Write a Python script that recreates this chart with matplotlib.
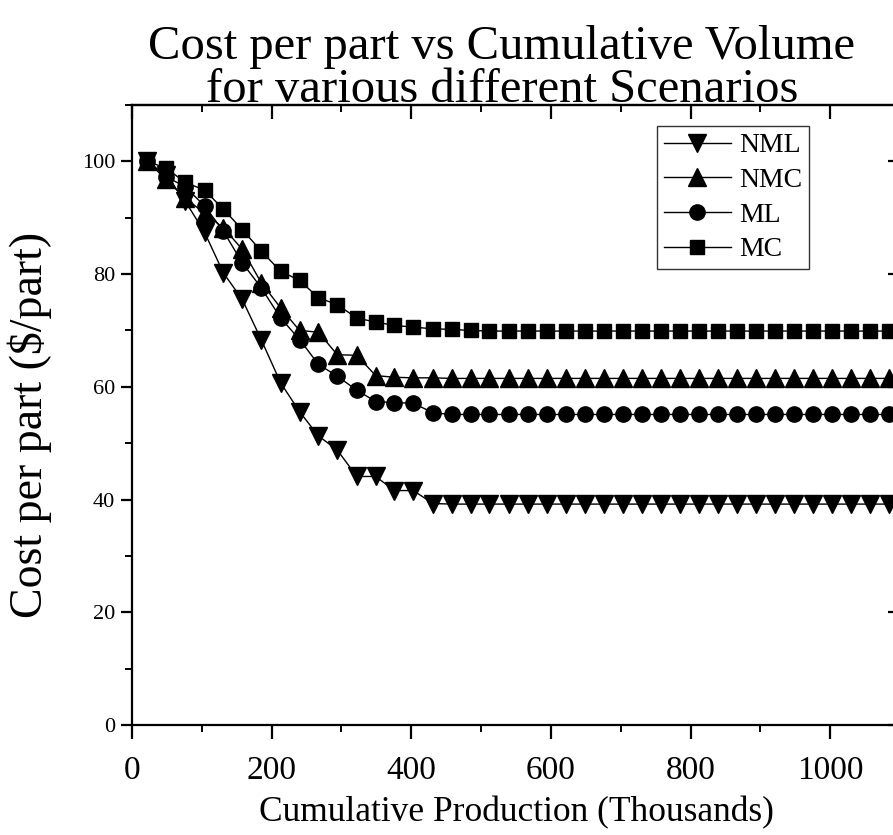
"""
Cost per part against cumulative production volume for the four scenarios.
"""

import matplotlib.pyplot as plt
import matplotlib.ticker as ticker

plt.rcParams["font.family"] = ["Liberation Serif", "DejaVu Serif"]

# cumulative production (thousands of parts)
volume = [22, 49, 76, 104, 131, 158, 185, 213, 240, 267,
          294, 322, 349, 376, 403, 431, 458, 485, 512, 540,
          567, 594, 621, 649, 676, 703, 730, 758, 785, 812,
          839, 867, 894, 921, 948, 976, 1003, 1030, 1057, 1085]

# cost per part ($/part) for each scenario
nml = [100.0, 97.5, 93.0, 87.4, 80.2, 75.5, 68.4, 60.7, 55.6, 51.3,
       48.8, 44.1, 44.1, 41.6, 41.6, 39.3] + [39.2] * 24
nmc = [100.0, 96.8, 93.5, 90.8, 88.2, 84.4, 78.5, 74.0, 70.0, 69.7,
       65.7, 65.6, 62.0, 61.7, 61.6, 61.6] + [61.5] * 24
ml = [100.0, 97.3, 95.5, 92.1, 87.6, 82.0, 77.6, 72.2, 68.4, 64.0,
      61.9, 59.4, 57.4, 57.2, 57.1, 55.4] + [55.1] * 24
mc = [100.0, 98.8, 96.3, 94.9, 91.5, 87.9, 84.1, 80.5, 78.9, 75.8,
      74.6, 72.2, 71.5, 70.9, 70.6, 70.3, 70.2, 70.0] + [69.9] * 22

SERIES = [
    ("NML", nml, dict(marker="v", ms=12.5)),
    ("NMC", nmc, dict(marker="^", ms=12.5)),
    ("ML", ml, dict(marker="o", ms=11)),
    ("MC", mc, dict(marker="s", ms=10.5)),
]

fig = plt.figure(figsize=(8.93, 8.35), dpi=100)
ax = fig.add_axes([0.1478, 0.1317, 0.86, 0.7425])

for name, values, style in SERIES:
    ax.plot(volume, values, color="black", lw=1.0, mfc="black", mec="black",
            label=name, **style)

ax.set_xlim(0, 1100)
ax.set_ylim(0, 110)
ax.xaxis.set_major_locator(ticker.MultipleLocator(200))
ax.xaxis.set_minor_locator(ticker.MultipleLocator(100))
ax.yaxis.set_major_locator(ticker.MultipleLocator(20))
ax.yaxis.set_minor_locator(ticker.MultipleLocator(10))

for side in ax.spines.values():
    side.set_linewidth(1.6)

ax.tick_params(axis="x", which="major", direction="out", length=10, width=1.6,
               labelsize=24, pad=12)
ax.tick_params(axis="x", which="minor", direction="out", length=5, width=1.4)
ax.tick_params(axis="y", which="major", direction="out", length=8, width=1.6,
               labelsize=16, pad=4)
ax.tick_params(axis="y", which="minor", direction="out", length=5, width=1.4)

# mirrored ticks on the top and right spines point inward
top = ax.secondary_xaxis("top")
top.xaxis.set_major_locator(ticker.MultipleLocator(200))
top.xaxis.set_minor_locator(ticker.MultipleLocator(100))
top.tick_params(which="major", direction="in", length=10, width=1.6, labeltop=False)
top.tick_params(which="minor", direction="in", length=5, width=1.4)
top.spines["top"].set_linewidth(1.6)
right = ax.secondary_yaxis("right")
right.yaxis.set_major_locator(ticker.MultipleLocator(20))
right.yaxis.set_minor_locator(ticker.MultipleLocator(10))
right.tick_params(which="major", direction="in", length=9, width=1.6, labelright=False)
right.tick_params(which="minor", direction="in", length=5, width=1.4)

ax.set_xlabel("Cumulative Production (Thousands)", fontsize=25.5, labelpad=7)
ax.set_ylabel("Cost per part ($/part)", fontsize=33)
ax.yaxis.set_label_coords(-0.104, 0.484)

fig.text(0.562, 0.866, "Cost per part vs Cumulative Volume\nfor various different Scenarios",
         ha="center", va="bottom", fontsize=35, linespacing=0.97)

leg = ax.legend(loc="upper right", bbox_to_anchor=(809 / 893, 1 - 126 / 835),
                bbox_transform=fig.transFigure, fontsize=20, frameon=True,
                fancybox=False, borderpad=0.25, labelspacing=0.33,
                handlelength=2.4, handletextpad=0.3, borderaxespad=0,
                numpoints=1)
leg.get_frame().set_edgecolor("black")
leg.get_frame().set_linewidth(1.0)

fig.savefig("out.png", dpi=100)
